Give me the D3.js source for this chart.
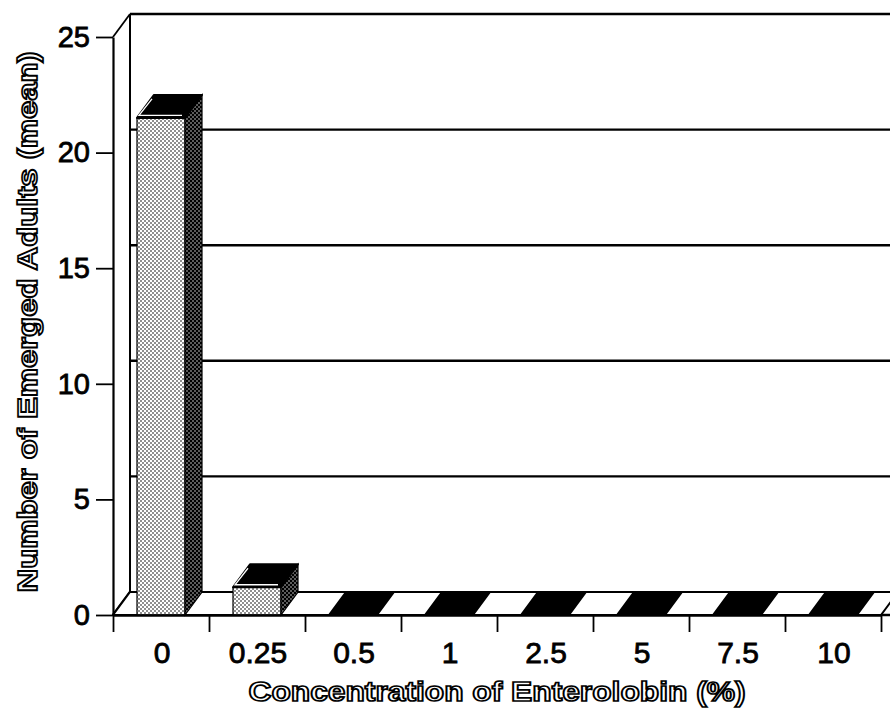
<!DOCTYPE html>
<html>
<head>
<meta charset="utf-8">
<script src="https://cdn.jsdelivr.net/npm/d3@7"></script>
<style>
  html, body { margin: 0; padding: 0; background: #fff; }
  svg { display: block; }
</style>
</head>
<body>
<svg id="chart" width="890" height="712"></svg>
<script>
// ---- data ----
const categories = ["0", "0.25", "0.5", "1", "2.5", "5", "7.5", "10"];
const values = [21.5, 1.2, 0, 0, 0, 0, 0, 0];
const yTicks = [0, 5, 10, 15, 20, 25];
const gridValues = [5, 10, 15, 20];
const xTitle = "Concentration of Enterolobin (%)";
const yTitle = "Number of Emerged Adults (mean)";

// ---- layout ----
const svg = d3.select("#chart");
const X0 = 113, X1 = 881;
const DX = 17, DY = -23;       // depth offset of back plane
const FONT = "'Liberation Sans', Arial, Helvetica, sans-serif";

const y = d3.scaleLinear().domain([0, 25]).range([615, 37]);
const x = d3.scaleBand().domain(categories).range([X0, X1])
  .paddingInner(0.5).paddingOuter(0.25);
const xEdge = d3.scaleLinear().domain([0, categories.length]).range([X0, X1]);

// patterns
const defs = svg.append("defs");
const pf = defs.append("pattern").attr("id", "pFront")
  .attr("patternUnits", "userSpaceOnUse").attr("width", 4).attr("height", 4);
pf.append("rect").attr("width", 4).attr("height", 4).attr("fill", "#fff");
pf.append("circle").attr("cx", 1).attr("cy", 1).attr("r", 0.8).attr("fill", "#000");
pf.append("circle").attr("cx", 3).attr("cy", 3).attr("r", 0.8).attr("fill", "#000");
const ps = defs.append("pattern").attr("id", "pSide")
  .attr("patternUnits", "userSpaceOnUse").attr("width", 4).attr("height", 4);
ps.append("rect").attr("width", 4).attr("height", 4).attr("fill", "#000");
ps.append("circle").attr("cx", 1).attr("cy", 1).attr("r", 0.7).attr("fill", "#fff");
ps.append("circle").attr("cx", 3).attr("cy", 3).attr("r", 0.7).attr("fill", "#fff");

const line = (x1, y1, x2, y2, w) => svg.append("line")
  .attr("x1", x1).attr("y1", y1).attr("x2", x2).attr("y2", y2)
  .attr("stroke", "#000").attr("stroke-width", w || 2);

// ---- back wall ----
line(X0 + DX, y(25) + DY, X1 + DX, y(25) + DY, 2.4);
line(X0 + DX, y(25) + DY, X0 + DX, y(0) + DY, 2);
svg.append("g").selectAll("line").data(gridValues).join("line")
  .attr("x1", X0 + DX).attr("x2", X1 + DX)
  .attr("y1", d => y(d) + DY).attr("y2", d => y(d) + DY)
  .attr("stroke", "#000").attr("stroke-width", 2.4);

// ---- left wall diagonals ----
line(X0, y(25), X0 + DX, y(25) + DY, 1.8);
line(X0, y(0), X0 + DX, y(0) + DY, 2.5);

// ---- floor ----
svg.append("polygon")
  .attr("points", [[X0, y(0)], [X1, y(0)], [X1 + DX, y(0) + DY], [X0 + DX, y(0) + DY]].join(" "))
  .attr("fill", "#fff").attr("stroke", "#000").attr("stroke-width", 2);

// ---- bars ----
const w = x.bandwidth();
const bars = svg.append("g");
categories.forEach((c, i) => {
  const v = values[i];
  const xl = x(c), yb = y(0), yt = y(v);
  const g = bars.append("g");
  if (v > 0) {
    g.append("rect").attr("x", xl).attr("y", yt).attr("width", w).attr("height", yb - yt)
      .attr("fill", "url(#pFront)").attr("stroke", "#000").attr("stroke-width", 1.2);
    g.append("polygon")
      .attr("points", [[xl + w, yb], [xl + w + DX, yb + DY], [xl + w + DX, yt + DY], [xl + w, yt]].join(" "))
      .attr("fill", "url(#pSide)").attr("stroke", "#000").attr("stroke-width", 1.2);
  }
  g.append("polygon")
    .attr("points", [[xl, yt], [xl + w, yt], [xl + w + DX, yt + DY], [xl + DX, yt + DY]].join(" "))
    .attr("fill", "#000").attr("stroke", "#000").attr("stroke-width", 2)
    .attr("stroke-linejoin", "round");
  if (v > 0) {
    g.append("polyline")
      .attr("points", [[xl + DX - 2, yt + DY + 4], [xl + 2, yt - 2.5], [xl + w - 3, yt - 2.5]].join(" "))
      .attr("fill", "none").attr("stroke", "#fff").attr("stroke-width", 1.3);
  }
});

// ---- y axis ----
const yAxis = svg.append("g").attr("transform", `translate(${X0},0)`)
  .call(d3.axisLeft(y).tickValues(yTicks).tickSize(17).tickSizeOuter(0).tickPadding(6));
yAxis.select(".domain").attr("stroke-width", 2.2);
yAxis.selectAll(".tick line").attr("stroke-width", 1.8);
yAxis.selectAll(".tick text")
  .attr("font-family", FONT).attr("font-size", 29).attr("fill", "#000")
  .attr("stroke", "#000").attr("stroke-width", 0.8);

// ---- x axis (ticks at band edges) ----
const xAxis = svg.append("g").attr("transform", `translate(0,${y(0)})`)
  .call(d3.axisBottom(xEdge).tickValues(d3.range(categories.length + 1))
    .tickSize(17).tickSizeOuter(0).tickFormat(""));
xAxis.select(".domain").attr("stroke-width", 2.5);
xAxis.selectAll(".tick line").attr("stroke-width", 1.8);
line(X1, y(0), 890, y(0), 2.5);
svg.append("g").selectAll("text").data(categories).join("text")
  .attr("x", d => x(d) + w / 2 + 1).attr("y", 663)
  .attr("text-anchor", "middle")
  .attr("font-family", FONT).attr("font-size", 30).attr("fill", "#000")
  .attr("stroke", "#000").attr("stroke-width", 0.8)
  .text(d => d);

// ---- titles (outlined) ----
svg.append("text")
  .attr("x", 497).attr("y", 701).attr("text-anchor", "middle")
  .attr("font-family", FONT).attr("font-weight", "bold").attr("font-size", 27)
  .attr("textLength", 497).attr("lengthAdjust", "spacingAndGlyphs")
  .attr("fill", "#fff").attr("stroke", "#000").attr("stroke-width", 1.7)
  .text(xTitle);
svg.append("text")
  .attr("transform", "translate(37,322) rotate(-90)").attr("text-anchor", "middle")
  .attr("font-family", FONT).attr("font-weight", "bold").attr("font-size", 27)
  .attr("textLength", 541).attr("lengthAdjust", "spacingAndGlyphs")
  .attr("fill", "#fff").attr("stroke", "#000").attr("stroke-width", 1.7)
  .text(yTitle);
</script>
</body>
</html>
